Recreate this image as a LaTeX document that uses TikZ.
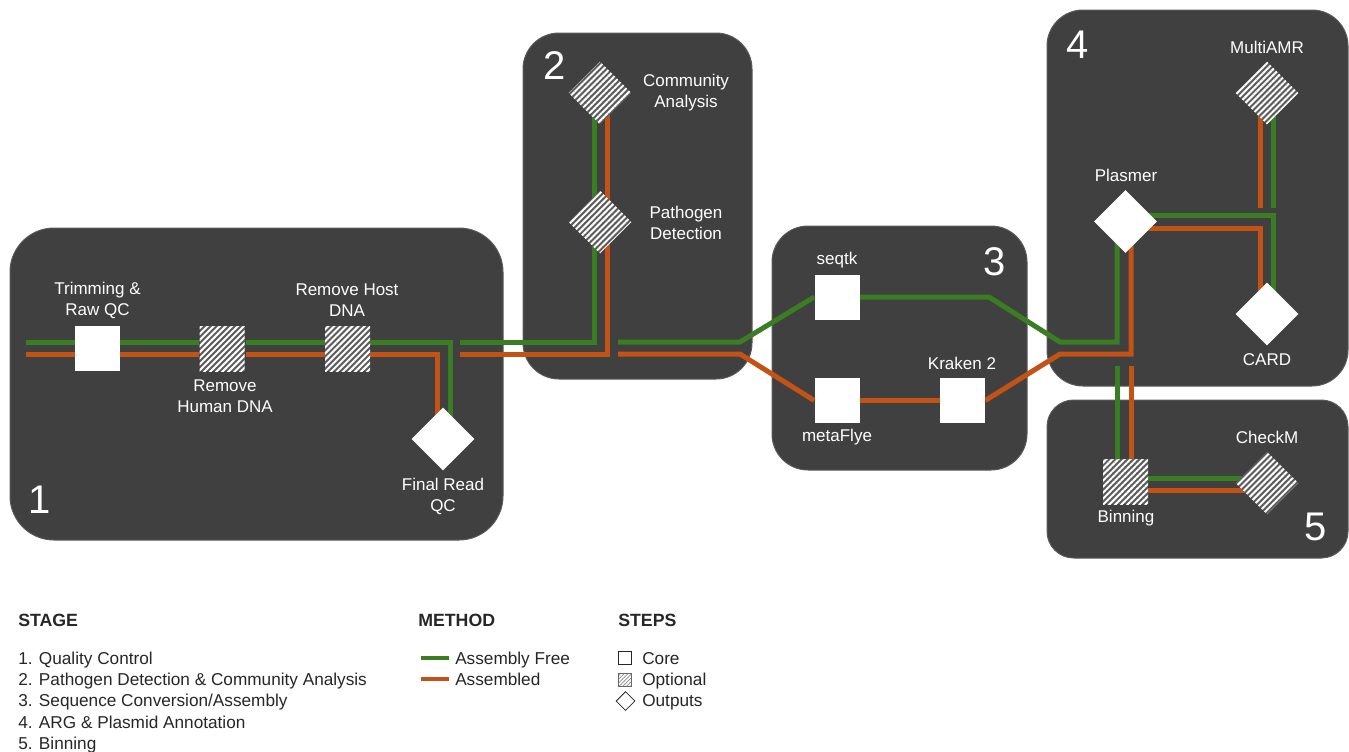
\documentclass[tikz,border=0pt]{standalone}
\usepackage{fontspec}
\setmainfont{Liberation Sans}
\usetikzlibrary{shapes.geometric,patterns.meta,calc}
\definecolor{panelc}{HTML}{404040}
\definecolor{panelb}{HTML}{5A5A5A}
\definecolor{greenc}{RGB}{58,125,35}
\definecolor{orangec}{RGB}{194,82,22}
\definecolor{hatchbg}{HTML}{5C5C5C}
\definecolor{legtext}{HTML}{262626}
\pgfdeclarelayer{back}
\pgfdeclarelayer{mid}
\pgfsetlayers{back,mid,main}
\newcommand\lblsize{\fontsize{12.75}{15.75}\selectfont}
\newcommand\numsize{\fontsize{30}{30}\selectfont}
\newcommand\legsize{\fontsize{12.9}{15}\selectfont}
\newcommand\headsize{\fontsize{13.3}{15}\selectfont\bfseries}
\begin{document}
\begin{tikzpicture}[x=0.75pt,y=-0.75pt,
  panel/.style={draw=panelb, line width=0.75pt, fill=panelc, inner sep=0, outer sep=0},
  corestep/.style={rectangle, fill=white, minimum size=33.75pt, inner sep=0},
  optstep/.style={rectangle, minimum size=33.75pt, inner sep=0, preaction={fill=hatchbg}, pattern={Lines[angle=45,distance=3.2pt,line width=1.5pt]}, pattern color=white},
  outstep/.style={diamond, fill=white, minimum size=47.25pt, inner sep=0},
  optout/.style={diamond, minimum size=47.25pt, inner sep=0, preaction={fill=hatchbg}, pattern={Lines[angle=45,distance=3.2pt,line width=1.5pt]}, pattern color=white},
  lbl/.style={text=white, font=\lblsize, align=center, inner sep=0},
  num/.style={text=white, font=\numsize, inner sep=0},
  gt/.style={draw=greenc, line width=3.75pt},
  ot/.style={draw=orangec, line width=3.75pt},
  leg/.style={text=legtext, font=\legsize, anchor=base west, inner sep=0},
  head/.style={text=legtext, font=\headsize, anchor=base west, inner sep=0},
]
\useasboundingbox (0,0) rectangle (1349,751);

% panels
\begin{pgfonlayer}{back}
\node[panel, minimum width=369.75pt, minimum height=234pt, rounded corners=33pt] (p1) at (256.5,384) {};
\node[panel, minimum width=171.75pt, minimum height=259.5pt, rounded corners=27pt] (p2) at (637.5,206) {};
\node[panel, minimum width=191.25pt, minimum height=183pt, rounded corners=27pt] (p3) at (899.5,348) {};
\node[panel, minimum width=225.75pt, minimum height=282pt, rounded corners=27pt] (p4) at (1197.5,198) {};
\node[panel, minimum width=225.75pt, minimum height=118.5pt, rounded corners=20pt] (p5) at (1197.5,479) {};
\end{pgfonlayer}

% stage numbers
\node[num] (n1) at (40,500) {1};
\node[num] (n2) at (555,66) {2};
\node[num] (n3) at (995,262) {3};
\node[num] (n4) at (1078,45) {4};
\node[num] (n5) at (1316,527) {5};

% steps
\node[corestep] (trim) at (97.5,348.5) {};
\node[optstep] (hum) at (222,348.5) {};
\node[optstep] (host) at (347.5,348.5) {};
\node[outstep] (final) at (443,439) {};
\node[optout] (comm) at (600,93) {};
\node[optout] (patho) at (600,222) {};
\node[corestep] (seqtk) at (837,297) {};
\node[corestep] (flye) at (837,400.5) {};
\node[corestep] (kraken) at (962.5,400.5) {};
\node[outstep] (plasmer) at (1125.5,221.5) {};
\node[optout] (multi) at (1267,93) {};
\node[outstep] (card) at (1267,314) {};
\node[optstep] (bin) at (1125.5,481.5) {};
\node[optout] (check) at (1267,483) {};

% labels
\node[lbl] (trimL) at (97.5,300.5) {Trimming \&\\Raw QC};
\node[lbl] (humL) at (225,396) {Remove\\Human DNA};
\node[lbl] (hostL) at (347,300.5) {Remove Host\\DNA};
\node[lbl] (finalL) at (443,496.5) {Final Read\\QC};
\node[lbl] (commL) at (686,92.5) {Community\\Analysis};
\node[lbl] (pathoL) at (686,222.5) {Pathogen\\Detection};
\node[lbl] (seqtkL) at (837,260) {seqtk};
\node[lbl] (flyeL) at (837,437) {metaFlye};
\node[lbl] (krakenL) at (962,363) {Kraken 2};
\node[lbl] (plasmerL) at (1126,175) {Plasmer};
\node[lbl] (multiL) at (1267,47) {MultiAMR};
\node[lbl] (cardL) at (1267,360) {CARD};
\node[lbl] (checkL) at (1267,437) {CheckM};
\node[lbl] (binL) at (1126,518) {Binning};

% tracks
\begin{pgfonlayer}{mid}
% panel 1
\coordinate (gin) at (26,342);
\coordinate (oin) at (26,354);
\coordinate (fg) at ($(final)+(7,0)$);
\coordinate (fo) at ($(final)+(-6,0)$);
\draw[gt] (gin) -- (trim.west |- gin);
\draw[gt] (trim.east |- gin) -- (hum.west |- gin);
\draw[gt] (hum.east |- gin) -- (host.west |- gin);
\draw[gt] (host.east |- gin) -- (fg |- gin) -- (fg);
\draw[ot] (oin) -- (trim.west |- oin);
\draw[ot] (trim.east |- oin) -- (hum.west |- oin);
\draw[ot] (hum.east |- oin) -- (host.west |- oin);
\draw[ot] (host.east |- oin) -- (fo |- oin) -- (fo);
% panel 2
\coordinate (g2) at (460,342);
\coordinate (o2) at (460,354);
\coordinate (cg) at ($(comm)+(-6,0)$);
\coordinate (co) at ($(comm)+(7.5,0)$);
\draw[gt] (g2) -- (cg |- g2) -- (cg);
\draw[ot] (o2) -- (co |- o2) -- (co);
% panel 2 -> 3 -> 4
\coordinate (g3) at (618,342);
\coordinate (o3) at (618,354);
\coordinate (gb1) at (740,342);
\coordinate (ob1) at (740,354);
\coordinate (gb2) at (989,297);
\coordinate (gb3) at (1060,342);
\coordinate (ob3) at (1060,354);
\coordinate (pg) at ($(plasmer)+(-8.5,0)$);
\coordinate (po) at ($(plasmer)+(5.5,0)$);
\draw[gt] (g3) -- (gb1) -- (seqtk.west);
\draw[gt] (seqtk.east) -- (gb2) -- (gb3) -- (pg |- gb3) -- (pg);
\draw[ot] (o3) -- (ob1) -- (flye.west);
\draw[ot] (flye.east) -- (kraken.west);
\draw[ot] (kraken.east) -- (ob3) -- (po |- ob3) -- (po);
% panel 4
\coordinate (pg2) at ($(plasmer)+(0,-6.5)$);
\coordinate (po2) at ($(plasmer)+(0,6.5)$);
\coordinate (cardg) at ($(card)+(6,0)$);
\coordinate (cardo) at ($(card)+(-7,0)$);
\coordinate (mg) at ($(multi)+(6,0)$);
\coordinate (mo) at ($(multi)+(-7,0)$);
\coordinate (mend) at (1267,208);
\draw[gt] (pg2) -- (cardg |- pg2) -- (cardg);
\draw[ot] (po2) -- (cardo |- po2) -- (cardo);
\draw[gt] (mg) -- (mg |- mend);
\draw[ot] (mo) -- (mo |- mend);
% panel 5
\coordinate (g5) at (1117,366);
\coordinate (o5) at (1131,366);
\coordinate (bg) at ($(bin)+(0,-3.5)$);
\coordinate (bo) at ($(bin)+(0,8.5)$);
\draw[gt] (g5) -- (g5 |- bin.north);
\draw[ot] (o5) -- (o5 |- bin.north);
\draw[gt] (bg) -- (bg -| check);
\draw[ot] (bo) -- (bo -| check);
\end{pgfonlayer}

% legend
\node[head] (hstage) at (18,626) {STAGE};
\node[head] (hmethod) at (418,626) {METHOD};
\node[head] (hsteps) at (618,626) {STEPS};
\node[leg] (s1) at (18,664) {1. Quality Control};
\node[leg] (s2) at (18,685) {2. Pathogen Detection \& Community Analysis};
\node[leg] (s3) at (18,706) {3. Sequence Conversion/Assembly};
\node[leg] (s4) at (18,728) {4. ARG \& Plasmid Annotation};
\node[leg] (s5) at (18,749) {5. Binning};
\coordinate (lg1) at (421,657.5);
\coordinate (lg2) at (449,657.5);
\coordinate (lo1) at (421,679);
\coordinate (lo2) at (449,679);
\draw[draw=greenc, line width=3pt] (lg1) -- (lg2);
\draw[draw=orangec, line width=3pt] (lo1) -- (lo2);
\node[leg] (mfree) at (455,664) {Assembly Free};
\node[leg] (masm) at (455,685) {Assembled};
\node[draw=legtext, line width=0.6pt, minimum size=9.75pt, inner sep=0] (kcore) at (624.5,658) {};
\node[draw=legtext!70, line width=0.6pt, minimum size=9.75pt, inner sep=0, pattern={Lines[angle=45,distance=2pt,line width=0.6pt]}, pattern color=legtext!55] (kopt) at (624.5,679.5) {};
\node[diamond, draw=legtext, line width=0.6pt, minimum size=14.25pt, inner sep=0] (kout) at (625.5,701) {};
\node[leg] (tcore) at (642,664) {Core};
\node[leg] (topt) at (642,685) {Optional};
\node[leg] (tout) at (642,706) {Outputs};
\end{tikzpicture}
\end{document}
